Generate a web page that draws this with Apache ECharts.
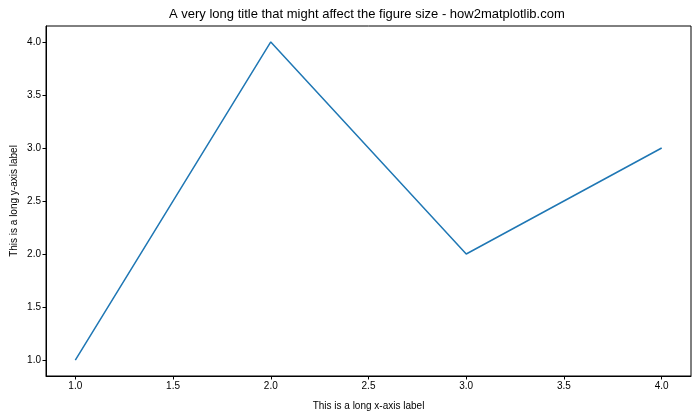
<!DOCTYPE html>
<html>
<head>
<meta charset="utf-8">
<script src="https://cdn.jsdelivr.net/npm/echarts@6/dist/echarts.min.js"></script>
<style>html,body{margin:0;padding:0;background:#fff}#c{width:700px;height:420px}</style>
</head>
<body>
<div id="c"></div>
<script>
const xValues = [1, 2, 3, 4];
const yValues = [1, 4, 2, 3];
const xTicks = [1.0, 1.5, 2.0, 2.5, 3.0, 3.5, 4.0];
const yTicks = [1.0, 1.5, 2.0, 2.5, 3.0, 3.5, 4.0];
const titleText = 'A very long title that might affect the figure size - how2matplotlib.com';
const xLabel = 'This is a long x-axis label';
const yLabel = 'This is a long y-axis label';

const FONT = '"Liberation Sans", Arial, sans-serif';
const chart = echarts.init(document.getElementById('c'), null, {renderer: 'canvas'});
function span(v) { const lo = Math.min(...v), hi = Math.max(...v), m = (hi - lo) * 0.05; return [lo - m, hi + m]; }
const xr = span(xValues), yr = span(yValues);
const axisCommon = {
  type: 'value',
  nameLocation: 'middle',
  nameMoveOverlap: false,
  nameTextStyle: {fontFamily: FONT, fontSize: 10, color: '#000'},
  axisLine: {show: true, lineStyle: {color: '#000', width: 1}},
  axisTick: {show: true, inside: false, length: 3.5, lineStyle: {color: '#000', width: 1}},
  axisLabel: {fontFamily: FONT, fontSize: 10, color: '#000', margin: 5, formatter: v => Number(v).toFixed(1)},
  splitLine: {show: false}
};
chart.setOption({
  animation: false,
  backgroundColor: '#fff',
  title: {text: titleText, left: 169, top: 8, padding: 0, textStyle: {fontFamily: FONT, fontSize: 13, fontWeight: 'normal', color: '#000'}},
  grid: {left: 46, right: 9, top: 26, bottom: 44, show: true, borderColor: '#000', borderWidth: 1, containLabel: false, outerBoundsMode: 'none'},
  xAxis: Object.assign({}, axisCommon, {
    min: xr[0], max: xr[1], name: xLabel, nameGap: 25,
    axisTick: Object.assign({}, axisCommon.axisTick, {customValues: xTicks}),
    axisLabel: Object.assign({}, axisCommon.axisLabel, {customValues: xTicks})
  }),
  yAxis: Object.assign({}, axisCommon, {
    min: yr[0], max: yr[1], name: yLabel, nameGap: 27, nameRotate: 90,
    axisTick: Object.assign({}, axisCommon.axisTick, {customValues: yTicks}),
    axisLabel: Object.assign({}, axisCommon.axisLabel, {customValues: yTicks})
  }),
  series: [{
    type: 'line',
    data: xValues.map((x, i) => [x, yValues[i]]),
    showSymbol: false,
    lineStyle: {color: '#1f77b4', width: 1.5},
    itemStyle: {color: '#1f77b4'}
  }]
});
</script>
</body>
</html>
